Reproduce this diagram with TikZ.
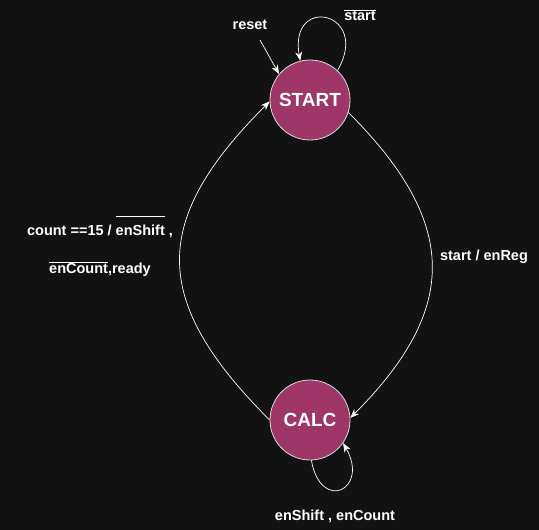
\documentclass[tikz,border=0pt]{standalone}
\usepackage{fontspec}
\setmainfont{Liberation Sans}
\usetikzlibrary{automata, positioning, arrows.meta}
\definecolor{bgdark}{HTML}{121212}
\definecolor{statefill}{HTML}{9E3668}
\tikzset{->,  % every connector is directed
>={Stealth[length=9pt, width=7pt]}, % filled arrow heads
node distance=320pt, % distance between START and CALC
every state/.style={draw=white!85!black, fill=statefill, minimum size=80pt, line width=0.8pt, font=\bfseries\fontsize{19}{19}\selectfont},
lbl/.style={font=\bfseries\fontsize{14.5}{17}\selectfont}, % edge labels
}

\begin{document}
\begin{tikzpicture}[x=1pt, y=1pt, white, line width=0.7pt]
  \useasboundingbox[fill=bgdark] (0,0) rectangle (539,-530);

  \node[state] (start) at (310,-100) {START};
  \node[state, below of=start] (calc) {CALC};

  \node[lbl] (rst) at (250,-25) {reset};
  \coordinate (rstpt) at (260,-40);
  \node[lbl] (nstart) at (360,-15) {$\overline{\mbox{start}}$};
  \node[lbl] (go) at (484,-257) {start / enReg};
  \node[lbl, align=center] (done) at (100,-246) {count ==15 / $\overline{\mbox{\rule{0pt}{18pt}enShift}}$ ,\\[21pt] $\overline{\mbox{enCount}}$,ready};
  \node[lbl] (shift) at (335,-516) {enShift , enCount};

  \draw (rstpt) -- (start.140);
  \draw (start.47) to[out=60, in=100, looseness=4.5] (start.104);
  \draw (start.-18) to[out=-45, in=45, looseness=1.3] (calc.3);
  \draw (calc.180) to[out=135, in=-135, looseness=1.36] (start.182);
  \draw (calc.-88) to[out=-80, in=-60, looseness=3.8] (calc.-35);

\end{tikzpicture}
\end{document}
